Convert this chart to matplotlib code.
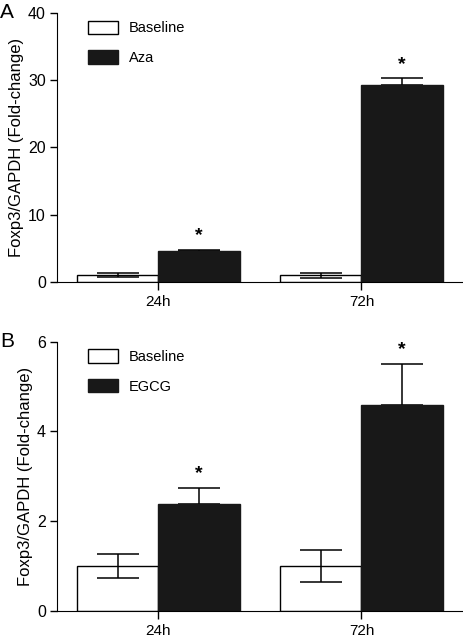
import numpy as np
import matplotlib
matplotlib.use("Agg")
import matplotlib.pyplot as plt

plt.rcParams['font.family'] = ['Liberation Sans', 'DejaVu Sans']

# --- dados ----------------------------------------------------------------
groups = ["24h", "72h"]

a_baseline = [1.0, 1.0]
a_baseline_err = [0.3, 0.4]
a_aza = [4.6, 29.3]
a_aza_err = [0.2, 1.0]

b_baseline = [1.0, 1.0]
b_baseline_err = [0.26, 0.36]
b_egcg = [2.38, 4.59]
b_egcg_err = [0.37, 0.92]

a_yticks = [0, 10, 20, 30, 40]
b_yticks = [0, 2, 4, 6]

fig = plt.figure(figsize=(4.63, 6.36), dpi=100)
axA = fig.add_axes([0.123, 0.5566, 0.877, 0.423])
axB = fig.add_axes([0.123, 0.0393, 0.877, 0.4234])

x = np.arange(len(groups))
w = 0.4


def draw(ax, base, base_err, trt, trt_err, trt_label, yticks, ymax, letter):
    ax.bar(x - w / 2, base, w, color="white", edgecolor="black", lw=1.0,
           label="Baseline", zorder=2)
    ax.bar(x + w / 2, trt, w, color="#181818", edgecolor="#181818", lw=1.0,
           label=trt_label, zorder=2)
    # baseline: barra de erro nos dois sentidos; tratamento: só para cima
    ax.errorbar(x - w / 2, base, yerr=base_err, fmt="none", ecolor="black",
                elinewidth=1.1, capsize=15, capthick=1.1, zorder=3)
    ax.errorbar(x + w / 2, trt, yerr=[np.zeros(len(trt)), trt_err], fmt="none",
                ecolor="black", elinewidth=1.1, capsize=15, capthick=1.1, zorder=1)
    for xi, v, e in zip(x, trt, trt_err):
        ax.text(xi + w / 2, v + e + ymax * 0.02, "*", ha="center", va="bottom",
                fontsize=14, fontweight="bold")

    ax.set_xlim(-0.5, 1.5)
    ax.set_ylim(0, ymax)
    ax.set_yticks(yticks)
    ax.set_xticks(x)
    ax.set_xticklabels(groups)
    ax.spines["top"].set_visible(False)
    ax.spines["right"].set_visible(False)
    ax.tick_params(axis="y", length=5, width=1, labelsize=11.5, pad=3)
    ax.tick_params(axis="x", length=6, width=1, labelsize=11, pad=3)
    ax.set_ylabel("Foxp3/GAPDH (Fold-change)", fontsize=12, labelpad=3)
    ax.legend(loc="upper left", bbox_to_anchor=(0.045, 1.02), frameon=False,
              fontsize=10.5, handlelength=2.0, handleheight=1.05,
              labelspacing=1.0, handletextpad=0.8)
    ax.text(-0.123 / 0.877, 1.0, letter, transform=ax.transAxes,
            fontsize=15, ha="left", va="center")


draw(axA, a_baseline, a_baseline_err, a_aza, a_aza_err, "Aza", a_yticks, 40, "A")
draw(axB, b_baseline, b_baseline_err, b_egcg, b_egcg_err, "EGCG", b_yticks, 6, "B")

fig.savefig("out.png", dpi=100)
